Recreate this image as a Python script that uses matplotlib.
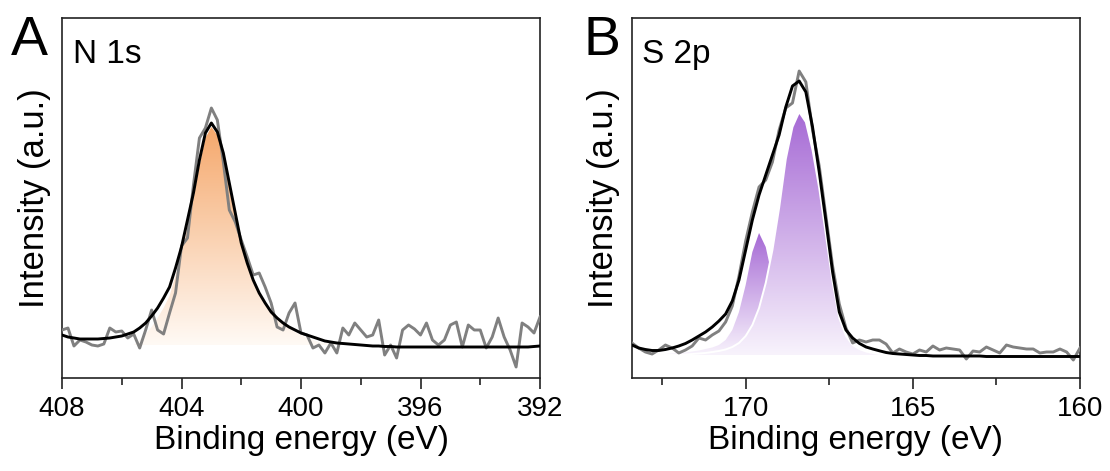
import numpy as np
import matplotlib
matplotlib.use("Agg")
import matplotlib.pyplot as plt
from matplotlib.patches import Polygon
from matplotlib.ticker import MultipleLocator

plt.rcParams['font.family'] = ['Liberation Sans', 'DejaVu Sans']

# N 1s spectrum, 408 -> 392 eV, 0.2 eV steps
n1s_raw = [48, 50, 32, 38, 36, 33, 32, 34, 50, 46,
           47, 40, 44, 30, 48, 68, 48, 44, 65, 85,
           132, 140, 193, 240, 250, 270, 258, 216, 168, 156,
           138, 121, 103, 105, 91, 75, 51, 48, 65, 75,
           45, 43, 30, 33, 25, 35, 25, 50, 43, 55,
           48, 41, 43, 58, 23, 33, 20, 48, 53, 49,
           43, 55, 38, 33, 38, 53, 56, 31, 53, 48,
           48, 30, 41, 60, 41, 28, 11, 55, 51, 45,
           61]
n1s_fit = [43, 41, 40, 39, 39, 39, 39, 39.5, 40, 41,
           42, 44, 46, 50, 55, 62, 70, 80, 91, 110,
           131, 158, 185, 218, 245, 255, 246, 225, 195, 165,
           135, 115, 98, 85, 75, 66, 60, 55, 51, 48,
           45, 43, 41, 39, 37, 36, 35, 34.5, 34, 33.5,
           33, 32.5, 32, 32, 31.5, 31.5, 31, 31, 31, 31,
           31, 31, 31, 31, 31, 31, 31, 31, 31, 31,
           31, 31, 31, 31, 31, 31, 31, 31, 31, 31.5,
           32]
n1s_peak = [33, 33, 33, 33, 33, 33, 33, 33, 33, 33,
            33, 33, 33, 38, 44, 51, 60, 70, 82, 102,
            124, 151, 179, 212, 240, 251, 243, 222, 193, 163,
            133, 113, 97, 84, 74, 65, 59, 54, 50, 46,
            43, 40, 38, 36, 35, 34, 33.5, 33, 33, 33,
            33, 33, 33, 33, 33, 33, 33, 33, 33, 33,
            33, 33, 33, 33, 33, 33, 33, 33, 33, 33,
            33, 33, 33, 33, 33, 33, 33, 33, 33, 33,
            33]
n1s_base = 33

# S 2p spectrum, 173.4 -> 160.0 eV, 0.2 eV steps
s2p_raw = [35, 30, 26, 24, 28, 33, 30, 25, 28, 32,
           40, 38, 43, 47, 56, 72, 102, 137, 166, 191,
           198, 216, 248, 270, 275, 307, 296, 248, 212, 162,
           112, 74, 50, 35, 38, 36, 38, 38, 34, 25,
           29, 26, 24, 28, 26, 32, 28, 30, 29, 28,
           19, 27, 26, 31, 28, 25, 33, 31, 30, 29,
           29, 25, 26, 26, 29, 26, 18, 30]
s2p_fit = [33, 30, 28.5, 27.5, 27.5, 28.5, 30, 32, 34.5, 38,
           42, 46, 51, 57, 64, 77, 98, 128, 158, 183,
           203, 223, 243, 271, 292, 297, 286, 251, 206, 157,
           106, 66, 48, 40, 34.6, 31, 29, 27.2, 25.5, 24.5,
           24, 23.5, 23, 22.5, 22.5, 22, 22, 22, 22, 22,
           22, 22, 22, 21.5, 21.5, 21.5, 21.5, 21.5, 21.5, 21.5,
           21.5, 21.5, 21.5, 21.5, 21.5, 21.5, 21.5, 21.5]
s2p_minor = [23, 23, 23, 23, 23.5, 24, 24.5, 25, 25.5, 26.5,
             27.5, 29, 30.5, 33, 38, 48, 66, 93, 126, 145,
             131, 100, 70, 51, 40, 34, 31, 29, 28, 27,
             26, 25.5, 25, 24.5, 24, 23.5, 23, 23, 23, 23,
             23, 23, 23, 23, 23, 23, 23, 23, 23, 23,
             23, 23, 23, 23, 23, 23, 23, 23, 23, 23,
             23, 23, 23, 23, 23, 23, 23, 23]
s2p_major = [23, 23, 23, 23, 23, 23, 23, 23, 23.5, 24,
             24.5, 25, 26, 27, 28.5, 31, 35, 42, 53, 70,
             95, 128, 170, 219, 251, 266, 256, 228, 190, 143,
             96, 60, 42, 33, 29, 26.5, 25, 24, 23.5, 23,
             23, 23, 23, 23, 23, 23, 23, 23, 23, 23,
             23, 23, 23, 23, 23, 23, 23, 23, 23, 23,
             23, 23, 23, 23, 23, 23, 23, 23]
s2p_base = 23

n1s_e = np.linspace(408, 392, len(n1s_raw))
s2p_e = np.linspace(173.4, 160.0, len(s2p_raw))

orange_top = (245/255, 168/255, 108/255)
orange_bot = (255/255, 250/255, 245/255)
purple_top = (166/255, 106/255, 213/255)
purple_bot = (248/255, 243/255, 252/255)


def grad_fill(ax, x, top, base, c_top, c_bot, z, edge=None):
    x = np.asarray(x, float)
    top = np.asarray(top, float)
    verts = np.column_stack([np.r_[x, x[::-1]],
                             np.r_[top, np.full(len(x), base)]])
    patch = Polygon(verts, closed=True, facecolor='none',
                    edgecolor='none')
    ax.add_patch(patch)
    t = np.linspace(0, 1, 256)[:, None, None]
    img = np.array(c_bot) * (1 - t) + np.array(c_top) * t
    im = ax.imshow(img, extent=[x.min(), x.max(), base, top.max()],
                   origin='lower', aspect='auto', zorder=z,
                   interpolation='bilinear')
    im.set_clip_path(patch)
    if edge is not None:
        ax.plot(x, top, color=edge, lw=1.4, zorder=z + 0.1,
                solid_joinstyle='round')


def style(ax, xlim, major, minor):
    ax.set_xlim(*xlim)
    ax.set_ylim(0, 360)
    ax.set_yticks([])
    ax.xaxis.set_major_locator(MultipleLocator(major))
    ax.xaxis.set_minor_locator(MultipleLocator(minor))
    ax.tick_params(axis='x', which='major', direction='out', length=8,
                   width=1.2, labelsize=20, pad=5, color='#222222')
    ax.tick_params(axis='x', which='minor', direction='out', length=5,
                   width=1.2, color='#222222')
    for s in ax.spines.values():
        s.set_linewidth(1.2)
        s.set_color('#222222')
    ax.set_xlabel('Binding energy (eV)', fontsize=24, labelpad=2)
    ax.set_ylabel('Intensity (a.u.)', fontsize=25)


fig = plt.figure(figsize=(11.1, 4.71), dpi=100)

# panel A
ax1 = fig.add_axes([62/1110, 93/471, 478/1110, 360/471])
grad_fill(ax1, n1s_e, n1s_peak, n1s_base, orange_top, orange_bot, 1)
ax1.plot(n1s_e, n1s_raw, color='#808080', lw=2.1, zorder=3,
         solid_joinstyle='round')
ax1.plot(n1s_e, n1s_fit, color='black', lw=2.1, zorder=4,
         solid_joinstyle='round')
style(ax1, (408, 392), 4, 2)
ax1.yaxis.set_label_coords(-0.024, 0.5)
ax1.text(0.022, 0.875, 'N 1s', transform=ax1.transAxes, fontsize=24,
         va='baseline', ha='left')

# panel B
ax2 = fig.add_axes([632/1110, 93/471, 448/1110, 360/471])
grad_fill(ax2, s2p_e, s2p_minor, s2p_base, purple_top, purple_bot, 1)
grad_fill(ax2, s2p_e, s2p_major, s2p_base, purple_top, purple_bot, 2,
          edge='white')
ax2.plot(s2p_e, s2p_raw, color='#808080', lw=2.1, zorder=3,
         solid_joinstyle='round')
ax2.plot(s2p_e, s2p_fit, color='black', lw=2.1, zorder=4,
         solid_joinstyle='round')
style(ax2, (173.4, 160), 5, 2.5)
ax2.yaxis.set_label_coords(-0.026, 0.5)
ax2.text(0.022, 0.875, 'S 2p', transform=ax2.transAxes, fontsize=24,
         va='baseline', ha='left')

fig.text(0.010, 0.883, 'A', fontsize=40, va='baseline', ha='left')
fig.text(0.526, 0.883, 'B', fontsize=40, va='baseline', ha='left')

fig.savefig('out.png', dpi=100)
